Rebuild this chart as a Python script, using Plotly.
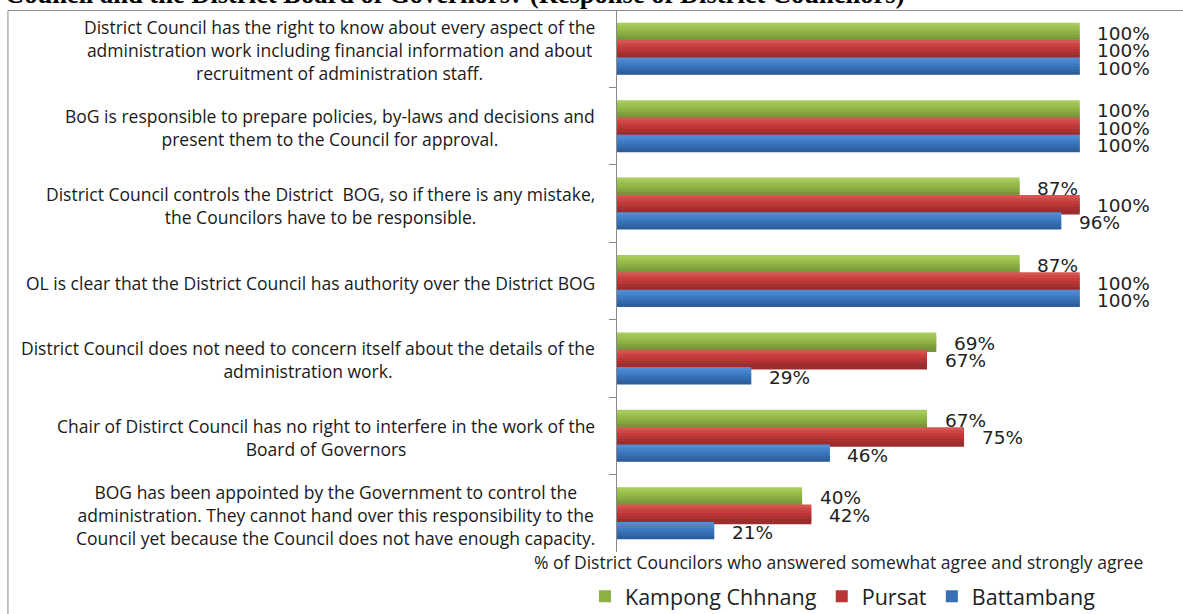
import plotly.graph_objects as go

# Survey statements (one row of bars per statement, top to bottom)
categories = [
    "District Council has the right to know about every aspect of the<br>"
    "administration work including financial information and about<br>"
    "recruitment of administration staff.",
    "BoG is responsible to prepare policies, by-laws and decisions and<br>"
    "present them to the Council for approval.",
    "District Council controls the District  BOG, so if there is any mistake,<br>"
    "the Councilors have to be responsible.",
    "OL is clear that the District Council has authority over the District BOG",
    "District Council does not need to concern itself about the details of the<br>"
    "administration work.",
    "Chair of Distirct Council has no right to interfere in the work of the<br>"
    "Board of Governors",
    "BOG has been appointed by the Government to control the<br>"
    "administration. They cannot hand over this responsibility to the<br>"
    "Council yet because the Council does not have enough capacity.",
]

# % of district councilors who somewhat / strongly agree, per province
kampong_chhnang = [100, 100, 87, 87, 69, 67, 40]
pursat = [100, 100, 100, 100, 67, 75, 42]
battambang = [100, 100, 96, 100, 29, 46, 21]

series_names = ["Kampong Chhnang", "Pursat", "Battambang"]
series_values = [kampong_chhnang, pursat, battambang]

axis_title = "% of District Councilors who answered somewhat agree and strongly agree"
title_text = "Council and the District Board of Governors? (Response of District Councilors)"

# Shades from the top edge of a bar to its bottom edge (gives a soft gradient)
shades = [
    ["#a8cc5c", "#9fc352", "#96ba4a", "#8cb044", "#82a43f", "#77973a"],
    ["#d65451", "#cd4745", "#c43d3c", "#b93636", "#ab3131", "#9c2d2d"],
    ["#4f8dd5", "#4683cb", "#3e7ac1", "#3870b6", "#3267a9", "#2d5d9a"],
]

# Page geometry (pixels)
W, H = 1183, 614
PLOT_L, PLOT_T, PLOT_B = 617, 10, 551.7
X_MAX = 110
PX_PER_UNIT = 4.623
PLOT_R = PLOT_L + X_MAX * PX_PER_UNIT
plot_w = PLOT_R - PLOT_L
plot_h = PLOT_B - PLOT_T

GROUP_HALF = 0.336
BAR_W = 2 * GROUP_HALF / 3
N_STRIPS = len(shades[0])
STRIP_W = BAR_W / N_STRIPS
PITCH = plot_h / len(categories)

LABEL_FONT = "Open Sans"

fig = go.Figure()

for k, (name, vals) in enumerate(zip(series_names, series_values)):
    for j in range(N_STRIPS):
        # each strip overlaps the next one so no seams show between them
        last = (k == len(series_names) - 1) and (j == N_STRIPS - 1)
        fig.add_trace(go.Bar(
            name=name,
            x=vals,
            y=categories,
            orientation="h",
            width=STRIP_W if last else STRIP_W * 1.8,
            offset=-GROUP_HALF + k * BAR_W + j * STRIP_W,
            marker=dict(color=shades[k][j], line=dict(width=0)),
            legendgroup=name,
            showlegend=(j == N_STRIPS // 2),
            hoverinfo="skip",
        ))

annotations = []

# Statement labels: block right-aligned next to the axis, lines centred
for cat in categories:
    annotations.append(dict(
        x=0, xref="paper", y=cat, yref="y",
        text=cat, showarrow=False,
        xanchor="right", yanchor="middle", align="center",
        xshift=-20, yshift=-1.5,
        font=dict(family=LABEL_FONT, size=17.5, color="#1a1a1a"),
    ))

# Value labels at the end of each bar
for k, vals in enumerate(series_values):
    for cat, v in zip(categories, vals):
        annotations.append(dict(
            x=v, xref="x", y=cat, yref="y",
            text=f"{v}%", showarrow=False,
            xanchor="left", yanchor="middle",
            xshift=15.5,
            yshift=-(k - 1) * BAR_W * PITCH - 2,
            font=dict(family="DejaVu Sans", size=18.5, color="#222222"),
        ))

# Axis caption under the bars
annotations.append(dict(
    x=(838 - PLOT_L) / plot_w, xref="paper",
    y=(PLOT_B - 562) / plot_h, yref="paper",
    text=axis_title, showarrow=False,
    xanchor="center", yanchor="middle",
    font=dict(family=LABEL_FONT, size=17.5, color="#222222"),
))

# Heading running along the very top edge
annotations.append(dict(
    x=(4 - PLOT_L) / plot_w, xref="paper",
    y=1 + (PLOT_T - 11) / plot_h, yref="paper",
    text=title_text, showarrow=False,
    xanchor="left", yanchor="bottom",
    font=dict(family="Liberation Serif", size=26.5, color="#000000", weight="bold"),
))

# Frame around the chart
shapes = [dict(
    type="rect", xref="paper", yref="paper",
    x0=(8.5 - PLOT_L) / plot_w, x1=2,
    y0=-1, y1=1 + (PLOT_T - 10.5) / plot_h,
    line=dict(color="#8c8c8c", width=1),
    fillcolor="rgba(0,0,0,0)", layer="below",
)]

fig.update_layout(
    width=W, height=H,
    margin=dict(l=PLOT_L, r=W - PLOT_R, t=PLOT_T, b=H - PLOT_B, pad=0,
                autoexpand=False),
    paper_bgcolor="white", plot_bgcolor="white",
    barmode="overlay",
    xaxis=dict(range=[0, X_MAX], visible=False, showgrid=False, zeroline=False),
    yaxis=dict(
        type="category", categoryorder="array", categoryarray=categories,
        autorange="reversed",
        showticklabels=False, showgrid=False, zeroline=False,
        showline=True, linecolor="#8a8a8a", linewidth=1,
        ticks="outside", ticklen=7, tickcolor="#8a8a8a", tickson="boundaries",
    ),
    # anchored left of the plot area so the single row is allowed to run wide
    legend=dict(
        orientation="h",
        x=(585 - PLOT_L) / plot_w, xanchor="left",
        y=(PLOT_B - 596) / plot_h, yanchor="middle",
        font=dict(family=LABEL_FONT, size=21.5, color="#222222"),
        bgcolor="rgba(0,0,0,0)",
        traceorder="normal",
    ),
    annotations=annotations,
    shapes=shapes,
    showlegend=True,
)

fig.write_html("out.html")
